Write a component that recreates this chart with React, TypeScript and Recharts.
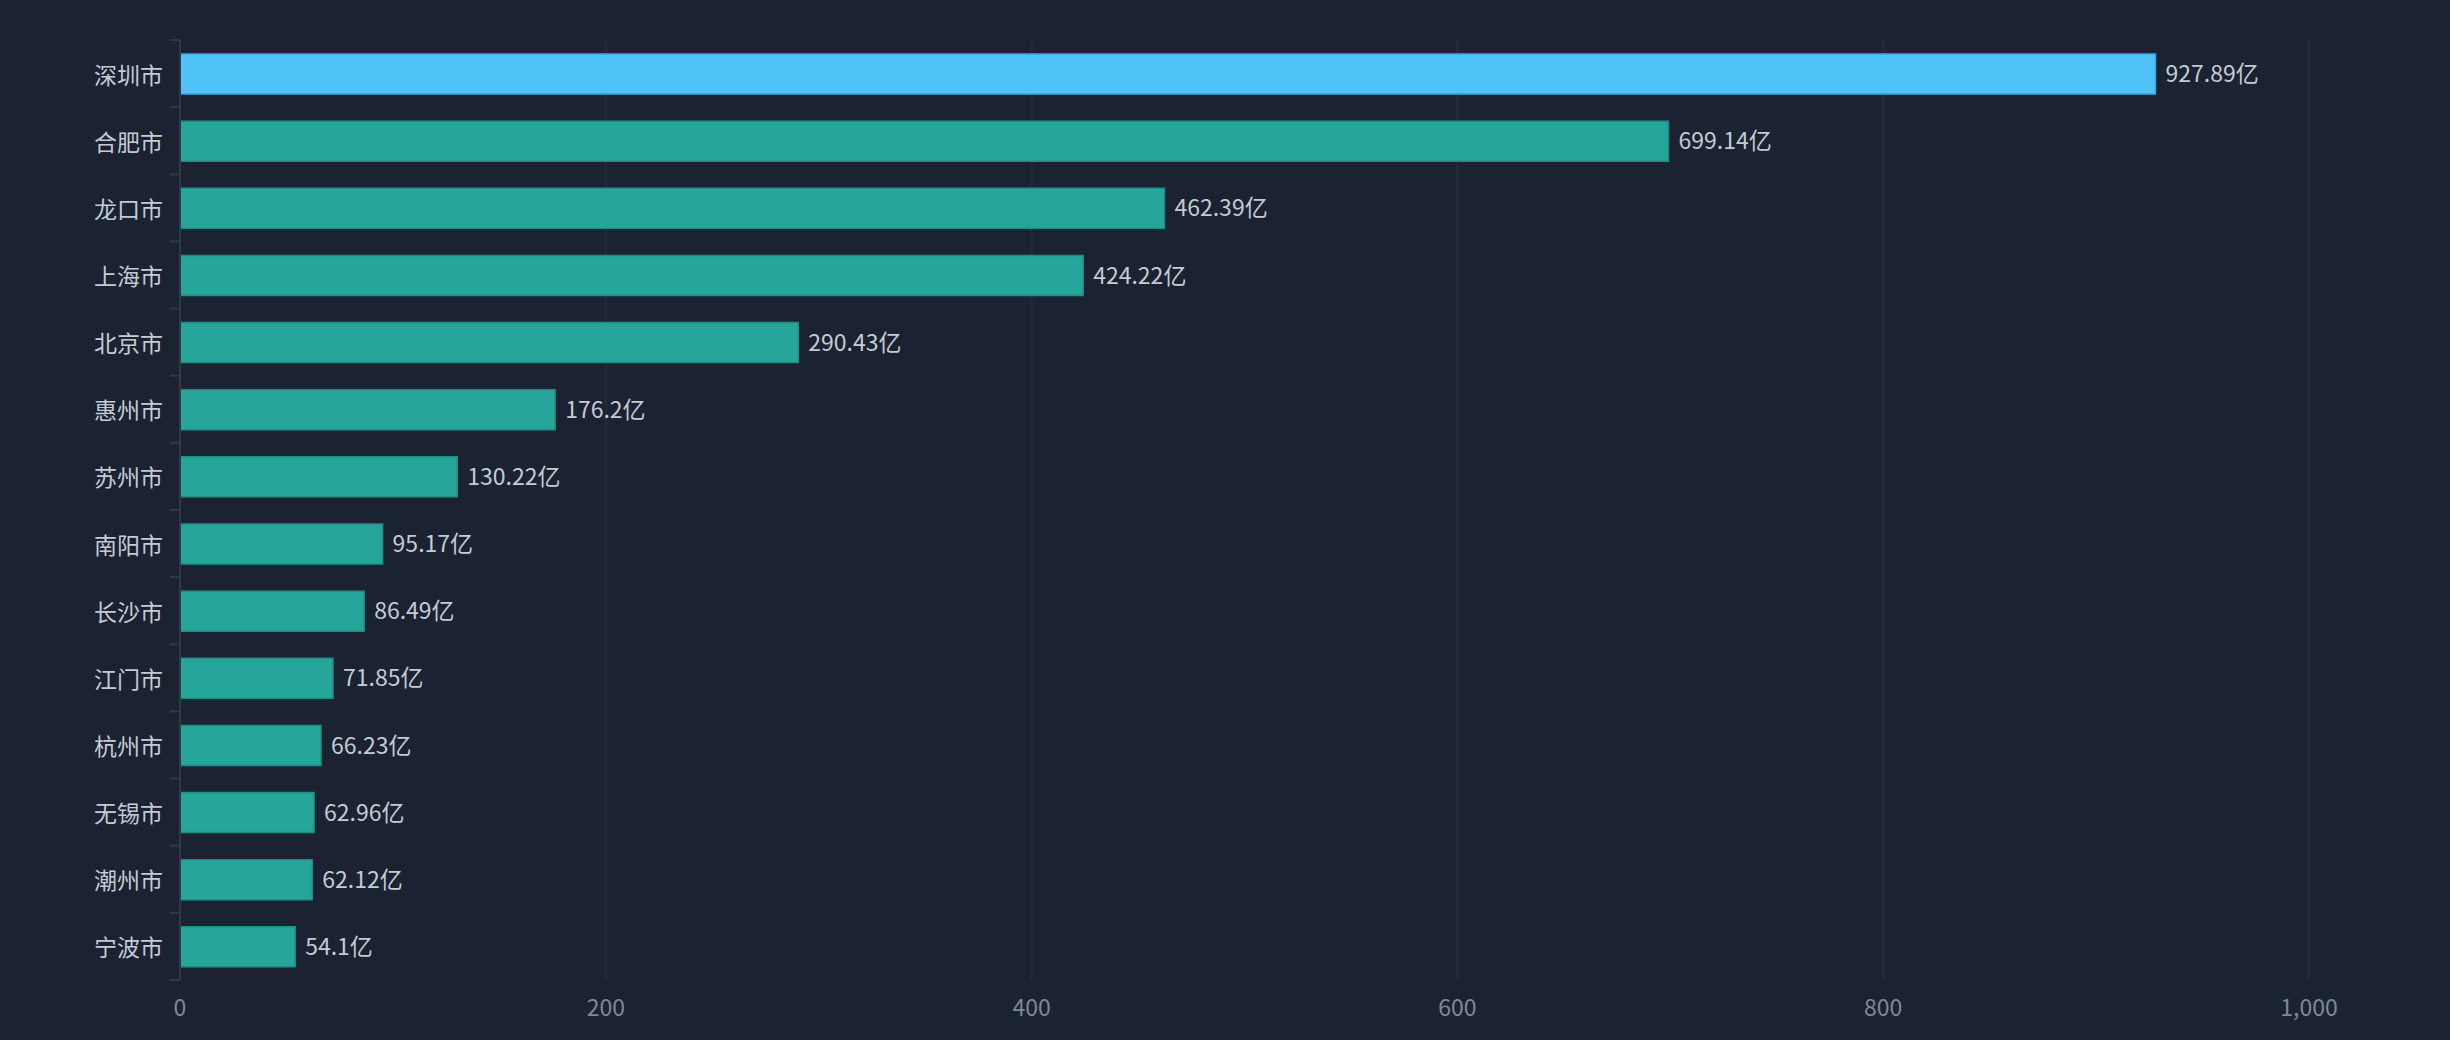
import React from "react";
import { BarChart, Bar, XAxis, YAxis, CartesianGrid, Cell, LabelList } from "recharts";

const cities = [
  "深圳市", "合肥市", "龙口市", "上海市", "北京市", "惠州市", "苏州市",
  "南阳市", "长沙市", "江门市", "杭州市", "无锡市", "潮州市", "宁波市",
];
const amounts = [
  927.89, 699.14, 462.39, 424.22, 290.43, 176.2, 130.22,
  95.17, 86.49, 71.85, 66.23, 62.96, 62.12, 54.1,
];
const xTicks = [0, 200, 400, 600, 800, 1000];

const data = cities.map((city, i) => ({ city, value: amounts[i] }));

const W = 2450;
const H = 1040;
const margin = { top: 40, right: 141, bottom: 20, left: 0 };
const xAxisHeight = 40;
const plotH = H - margin.top - margin.bottom - xAxisHeight;
const band = plotH / cities.length;

const FONT = '"Noto Sans CJK SC", "Noto Sans", sans-serif';

// ticks sit on the band edges, labels in the middle
function CityTick(props: any) {
  const { x, y, payload, index } = props;
  const last = index === cities.length - 1;
  return (
    <g>
      <line x1={x - 2} x2={x + 8} y1={y - band / 2} y2={y - band / 2} stroke="#2e3a4b" strokeWidth={2} />
      {last && (
        <line x1={x - 2} x2={x + 8} y1={y + band / 2} y2={y + band / 2} stroke="#2e3a4b" strokeWidth={2} />
      )}
      <text x={x - 9} y={y} textAnchor="end" dominantBaseline="central" fill="#c3cbd4" fontSize={23} fontFamily={FONT}>
        {payload.value}
      </text>
    </g>
  );
}

export default function App() {
  return (
    <div style={{ position: "absolute", left: 0, top: 0, width: W, height: H, background: "#1b2332" }}>
      <BarChart width={W} height={H} data={data} layout="vertical" margin={margin} barSize={40}>
        <CartesianGrid horizontal={false} stroke="#222d3c" strokeWidth={2} />
        <XAxis
          type="number"
          domain={[0, 1000]}
          ticks={xTicks}
          height={xAxisHeight}
          axisLine={false}
          tickLine={false}
          tickMargin={14}
          tick={{ fill: "#7d8898", fontSize: 23, fontFamily: FONT }}
          tickFormatter={(v: number) => v.toLocaleString("en-US")}
        />
        <YAxis
          type="category"
          dataKey="city"
          width={180}
          axisLine={{ stroke: "#2e3a4b", strokeWidth: 2 }}
          tickLine={false}
          tick={<CityTick />}
          interval={0}
        />
        <Bar dataKey="value" isAnimationActive={false}>
          {data.map((d, i) => (
            <Cell
              key={d.city}
              fill={i === 0 ? "#4fc3f7" : "#26a69a"}
              stroke={i === 0 ? "#3aa9dc" : "#1f8f85"}
              strokeWidth={1.5}
            />
          ))}
          <LabelList
            dataKey="value"
            position="right"
            offset={10}
            formatter={(v: any) => `${v}亿`}
            style={{ fill: "#c3cbd4", fontSize: 23, fontFamily: FONT }}
          />
        </Bar>
      </BarChart>
    </div>
  );
}
